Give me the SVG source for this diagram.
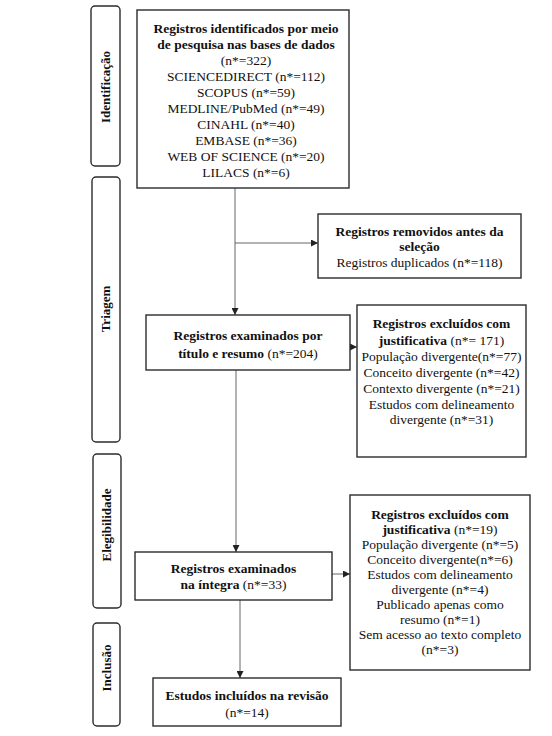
<svg xmlns="http://www.w3.org/2000/svg" width="552" height="736" viewBox="0 0 552 736" font-family="'Liberation Serif', 'Times New Roman', Tinos, 'DejaVu Serif', serif">
<style>
.box{fill:#fff;stroke:#2b2b2b;stroke-width:1.4}
.side{fill:#fff;stroke:#2b2b2b;stroke-width:1.4}
text{font-family:'Liberation Serif','Times New Roman',Tinos,'DejaVu Serif',serif;font-size:13.5px;fill:#111;text-anchor:middle}
.b{font-weight:bold}
.lbl{font-weight:bold;font-size:13px}
.con{stroke:#666;stroke-width:1;fill:none}
</style>
<defs>
<marker id="ah" viewBox="0 0 8 8" refX="8" refY="4" markerWidth="7" markerHeight="7" markerUnits="userSpaceOnUse" orient="auto">
<path d="M0,0 L8,4 L0,8 z" fill="#222"/>
</marker>
</defs>
<rect width="552" height="736" fill="#fff"/>
<g id="phase-identificacao">
<rect class="side" x="91" y="6" width="29" height="160" rx="4"/>
<text class="lbl" transform="translate(110,87) rotate(-90)">Identificação</text>
</g>
<g id="phase-triagem">
<rect class="side" x="92" y="177" width="28" height="265" rx="4"/>
<text class="lbl" transform="translate(110,309) rotate(-90)">Triagem</text>
</g>
<g id="phase-elegibilidade">
<rect class="side" x="93" y="454" width="28" height="154" rx="4"/>
<text class="lbl" transform="translate(111,525) rotate(-90)">Elegibilidade</text>
</g>
<g id="phase-inclusao">
<rect class="side" x="93" y="623" width="27" height="103" rx="4"/>
<text class="lbl" transform="translate(111,668) rotate(-90)">Inclusão</text>
</g>
<g id="connectors">
<line class="con" x1="235" y1="188" x2="235" y2="315" marker-end="url(#ah)"/>
<line class="con" x1="235" y1="243" x2="318" y2="243" marker-end="url(#ah)"/>
<line class="con" x1="350" y1="347" x2="357" y2="347" marker-end="url(#ah)"/>
<line class="con" x1="236" y1="370" x2="236" y2="552" marker-end="url(#ah)"/>
<line class="con" x1="332" y1="574" x2="350" y2="574" marker-end="url(#ah)"/>
<line class="con" x1="240" y1="600" x2="240" y2="678" marker-end="url(#ah)"/>
</g>
<g id="node-identificados">
<rect class="box" x="137" y="10" width="212" height="178"/>
<text class="b" x="246" y="33">Registros identificados por meio</text>
<text class="b" x="246" y="49">de pesquisa nas bases de dados</text>
<text x="246" y="65">(n*=322)</text>
<text x="246" y="81">SCIENCEDIRECT (n*=112)</text>
<text x="246" y="97">SCOPUS (n*=59)</text>
<text x="246" y="113">MEDLINE/PubMed (n*=49)</text>
<text x="246" y="129">CINAHL (n*=40)</text>
<text x="246" y="145">EMBASE (n*=36)</text>
<text x="246" y="161">WEB OF SCIENCE (n*=20)</text>
<text x="246" y="177">LILACS (n*=6)</text>
</g>
<g id="node-removidos">
<rect class="box" x="318" y="214" width="203" height="64"/>
<text class="b" x="419.5" y="236">Registros removidos antes da</text>
<text class="b" x="419.5" y="251">seleção</text>
<text x="419.5" y="267">Registros duplicados (n*=118)</text>
</g>
<g id="node-titulo-resumo">
<rect class="box" x="146" y="315" width="204" height="55"/>
<text class="b" x="248" y="340">Registros examinados por</text>
<text x="248" y="358"><tspan class="b">título e resumo</tspan> (n*=204)</text>
</g>
<g id="node-excluidos-1">
<rect class="box" x="357" y="305" width="169" height="152"/>
<text class="b" x="441.5" y="328">Registros excluídos com</text>
<text x="441.5" y="345"><tspan class="b">justificativa</tspan> (n*= 171)</text>
<text x="441.5" y="361">População divergente(n*=77)</text>
<text x="441.5" y="377">Conceito divergente (n*=42)</text>
<text x="441.5" y="393">Contexto divergente (n*=21)</text>
<text x="441.5" y="409">Estudos com delineamento</text>
<text x="441.5" y="424">divergente (n*=31)</text>
</g>
<g id="node-integra">
<rect class="box" x="135" y="552" width="197" height="48"/>
<text class="b" x="233.5" y="573">Registros examinados</text>
<text x="233.5" y="589"><tspan class="b">na íntegra</tspan> (n*=33)</text>
</g>
<g id="node-excluidos-2">
<rect class="box" x="350" y="495" width="180" height="175"/>
<text class="b" x="440" y="519">Registros excluídos com</text>
<text x="440" y="534"><tspan class="b">justificativa</tspan> (n*=19)</text>
<text x="440" y="549">População divergente (n*=5)</text>
<text x="440" y="564">Conceito divergente(n*=6)</text>
<text x="440" y="579">Estudos com delineamento</text>
<text x="440" y="594">divergente (n*=4)</text>
<text x="440" y="609">Publicado apenas como</text>
<text x="440" y="624">resumo (n*=1)</text>
<text x="440" y="639">Sem acesso ao texto completo</text>
<text x="440" y="654">(n*=3)</text>
</g>
<g id="node-incluidos">
<rect class="box" x="153" y="678" width="188" height="48"/>
<text class="b" x="247" y="700">Estudos incluídos na revisão</text>
<text x="247" y="717">(n*=14)</text>
</g>
</svg>
